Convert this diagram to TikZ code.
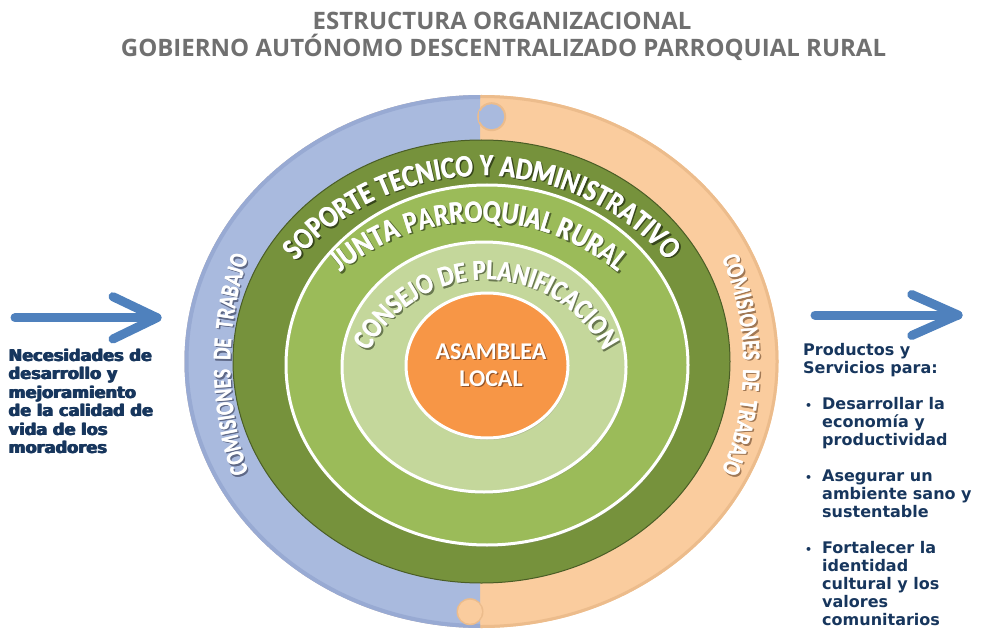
\documentclass[tikz,border=0pt]{standalone}
\usepackage{fontspec}
\setmainfont{Carlito}
\newfontfamily\arcfont{Carlito Bold}[FakeStretch=0.84]
\newfontfamily\arcfontc{Carlito Bold}[FakeStretch=0.78]
\newfontfamily\titlefont{Open Sans}
\newfontfamily\boxfont{DejaVu Sans}
\newfontfamily\heavyfont{DejaVu Sans Bold}
\usetikzlibrary{decorations.text,shadows}

\definecolor{ringblue}{RGB}{169,186,222}
\definecolor{ringbluedk}{RGB}{152,170,211}
\definecolor{ringorange}{RGB}{250,204,158}
\definecolor{ringorangedk}{RGB}{236,188,140}
\definecolor{dkgreen}{RGB}{118,146,60}
\definecolor{midgreen}{RGB}{155,187,89}
\definecolor{ltgreen}{RGB}{196,215,155}
\definecolor{coreorange}{RGB}{247,150,70}
\definecolor{arrowblue}{RGB}{79,129,189}
\definecolor{navy}{RGB}{23,54,93}
\definecolor{titlegray}{RGB}{112,112,112}
\definecolor{shblue}{RGB}{95,105,135}
\definecolor{shorange}{RGB}{160,120,85}
\definecolor{shdk}{RGB}{55,70,28}
\definecolor{shmid}{RGB}{80,100,45}
\definecolor{shlt}{RGB}{105,120,80}
\definecolor{shcore}{RGB}{150,85,40}

\newcommand{\bigarc}{\arcfont\fontsize{31}{31}\selectfont}
\newcommand{\midarc}{\arcfont\fontsize{29}{29}\selectfont}
\newcommand{\smallarc}{\arcfontc\fontsize{25}{25}\selectfont}
\newcommand{\arcpass}[5]{%
  \path[decorate, decoration={text along path, text align=center, text color=#1, text/.expand once=\arctextbody},
        shift={(#2)}, #5] (#4:#3) arc[start angle=#4, end angle=\arcend, radius=#3];}
\newcommand{\ringlabel}[6]{%
  \def\arctextbody{#6}\def\arcend{#5}%
  \arcpass{#1}{#2}{#3}{#4}{xshift=1.4pt, yshift=-1.4pt}
  \arcpass{#1}{#2}{#3}{#4}{xshift=2.1pt, yshift=-1.4pt}
  \arcpass{white}{#2}{#3}{#4}{xshift=0pt}
  \arcpass{white}{#2}{#3}{#4}{xshift=0.7pt}}
\newcommand{\thicktext}[2]{\rlap{\parbox[t]{#1}{#2}}\rlap{\hspace{0.6pt}\parbox[t]{#1}{#2}}\hspace{1.2pt}\parbox[t]{#1}{#2}}

\begin{document}
\begin{tikzpicture}[x=1pt,y=1pt,
  arrowline/.style={draw=arrowblue, line width=9pt, line cap=round, line join=round},
  titletext/.style={anchor=base, inner sep=0, text=titlegray, font=\titlefont\bfseries\fontsize{24}{26}\selectfont},
  sidetext/.style={anchor=base west, inner sep=0, text=navy},
  disc/.style={draw=white, line width=3pt, drop shadow={shadow xshift=1pt, shadow yshift=-2pt, opacity=0.3}}]
\useasboundingbox (0,0) rectangle (982,633);

% ---- title
\node[titletext] (title1) at (502,603) {ESTRUCTURA ORGANIZACIONAL};
\node[titletext] (title2) at (503.5,576) {GOBIERNO AUTÓNOMO DESCENTRALIZADO PARROQUIAL RURAL};

% ---- outer ring (blue left half, orange right half)
\fill[ringorange] (481.5,271.5) ellipse [x radius=297, y radius=266.5];
\begin{scope}
  \clip (480,0) rectangle (982,633);
  \draw[ringorangedk, line width=3] (481.5,271.5) ellipse [x radius=295.5, y radius=265];
\end{scope}
\begin{scope}
  \clip (0,0) rectangle (480,633);
  \fill[ringblue] (481.5,271.5) ellipse [x radius=297, y radius=266.5];
  \draw[ringbluedk, line width=4] (481.5,271.5) ellipse [x radius=295, y radius=264.5];
\end{scope}
% top puzzle knob (blue into orange)
\fill[ringorangedk] (491.7,516.3) circle (14.5);
\fill[ringorangedk] (479,509.5) rectangle (486,523);
\fill[ringblue] (491.7,516.3) circle (12.5);
\fill[ringblue] (479,511) rectangle (485,521.5);
% bottom puzzle knob (orange into blue)
\fill[ringorangedk] (470,21.3) circle (13.5);
\fill[ringorange] (470,21.3) circle (12);
\fill[ringorange] (474,16) rectangle (481,26.5);

% ---- green discs
\path[fill=dkgreen, draw=shdk!70!dkgreen, line width=1] (481.5,271.5) ellipse [x radius=248.5, y radius=221.5];
\path[disc, fill=midgreen] (487,268) ellipse [x radius=201, y radius=180];
\path[disc, fill=ltgreen] (484,266) ellipse [x radius=142, y radius=125];
\path[disc, fill=coreorange] (487,267.5) ellipse [x radius=81, y radius=72.5];

% ---- curved labels
\ringlabel{shdk}{482,212}{245}{170}{10}{|\bigarc|SOPORTE TECNICO Y ADMINISTRATIVO}
\ringlabel{shmid}{479,196}{215}{160}{20}{|\bigarc|JUNTA PARROQUIAL RURAL}
\ringlabel{shlt}{486,221.5}{131.5}{175}{5}{|\midarc|CONSEJO DE PLANIFICACION}
\ringlabel{shblue}{563,268}{333}{215}{145}{|\smallarc|COMISIONES ~DE ~TRABAJO}
\ringlabel{shorange}{467,268}{276}{40}{-40}{|\smallarc|COMISIONES ~DE ~TRABAJO}

% ---- centre
\node[align=center, inner sep=0, text=shcore, font=\bfseries\fontsize{24}{27}\selectfont] (asambleashadow) at (492.4,266.6) {ASAMBLEA\\LOCAL};
\node[align=center, inner sep=0, text=white, font=\bfseries\fontsize{24}{27}\selectfont] (asamblea) at (491,268) {ASAMBLEA\\LOCAL};

% ---- arrows
\coordinate (lastart) at (15,315.3);
\coordinate (latip) at (157,315.3);
\coordinate (lahone) at (113,336.3);
\coordinate (lahtwo) at (113,294);
\draw[arrowline] (lastart) -- (latip);
\draw[arrowline] (lahone) -- (latip) -- (lahtwo);
\coordinate (rastart) at (815,318);
\coordinate (ratip) at (958,318);
\coordinate (rahone) at (911.7,338.5);
\coordinate (rahtwo) at (911.7,297.5);
\draw[arrowline] (rastart) -- (ratip);
\draw[arrowline] (rahone) -- (ratip) -- (rahtwo);

% ---- side texts
\node[sidetext] (needs) at (8,272) {\heavyfont\fontsize{16.2}{18.5}\selectfont\thicktext{175pt}{\raggedright
Necesidades de\\desarrollo y\\mejoramiento\\de la calidad de\\vida de los\\moradores}};
\node[sidetext] (products) at (803,278) {\parbox[t]{180pt}{\raggedright\boxfont\bfseries\fontsize{16}{18}\selectfont
Productos y\\Servicios para:\\[18pt]
\makebox[19pt][l]{\hspace{2pt}{\fontsize{11}{11}\selectfont•}}Desarrollar la\\
\hspace*{19pt}economía y\\
\hspace*{19pt}productividad\\[18pt]
\makebox[19pt][l]{\hspace{2pt}{\fontsize{11}{11}\selectfont•}}Asegurar un\\
\hspace*{19pt}ambiente sano y\\
\hspace*{19pt}sustentable\\[18pt]
\makebox[19pt][l]{\hspace{2pt}{\fontsize{11}{11}\selectfont•}}Fortalecer la\\
\hspace*{19pt}identidad\\
\hspace*{19pt}cultural y los\\
\hspace*{19pt}valores\\
\hspace*{19pt}comunitarios}};
\end{tikzpicture}
\end{document}
